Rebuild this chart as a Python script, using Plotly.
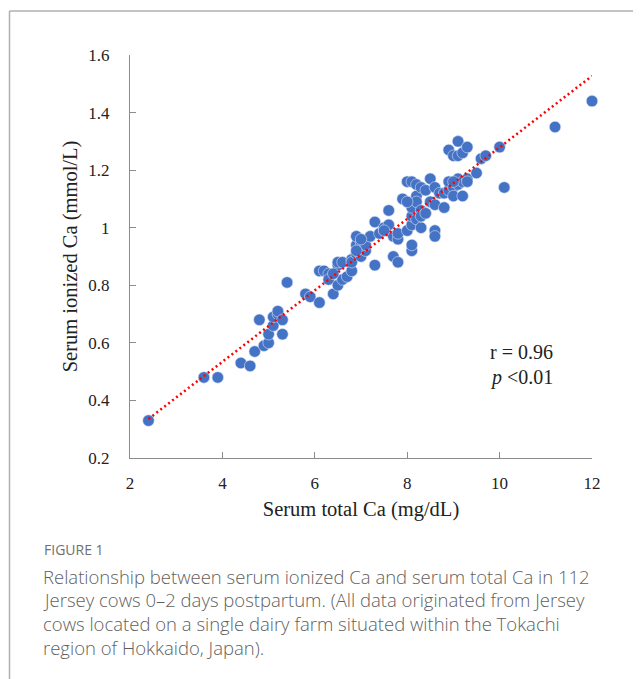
import numpy as np
import plotly.graph_objects as go

# Serum total Ca (mg/dL)
total_ca = [2.4, 3.6, 3.9, 4.4, 4.6, 4.7, 4.8, 4.9, 5.0, 5.0, 5.1, 5.1, 5.2, 5.2, 5.3, 5.3, 5.4,
            5.8, 5.9, 6.1, 6.1, 6.2, 6.3, 6.3, 6.4, 6.5, 6.5, 6.5, 6.6, 6.6, 6.7, 6.8, 6.8, 6.8,
            6.9, 6.9, 6.9, 7.0, 7.0, 7.0, 7.1, 7.1, 7.2, 7.3, 7.3, 7.4, 7.5, 7.5, 7.6, 7.6, 7.7,
            7.7, 7.8, 7.8, 7.8, 7.9, 8.0, 8.0, 8.1, 8.1, 8.1, 8.1, 8.1, 8.1, 8.2, 8.2, 8.2, 8.2,
            8.3, 8.3, 8.3, 8.3, 8.4, 8.5, 8.5, 8.6, 8.6, 8.6, 8.6, 8.7, 8.8, 8.8, 8.9, 8.9, 8.9,
            9.0, 9.0, 9.0, 9.1, 9.1, 9.1, 9.1, 9.2, 9.2, 9.2, 9.3, 9.3, 9.3, 9.5, 9.6, 9.7, 10.0,
            10.1, 11.2, 12.0, 6.4, 7.0, 7.5, 8.0, 8.4, 9.0, 6.9]
# Serum ionized Ca (mmol/L)
ionized_ca = [0.33, 0.48, 0.48, 0.53, 0.52, 0.57, 0.68, 0.59, 0.60, 0.63, 0.66, 0.69, 0.70, 0.71, 0.63, 0.68, 0.81,
              0.77, 0.76, 0.74, 0.85, 0.85, 0.84, 0.82, 0.77, 0.80, 0.87, 0.88, 0.82, 0.88, 0.83, 0.89, 0.85, 0.88,
              0.91, 0.94, 0.97, 0.93, 0.95, 0.90, 0.92, 0.94, 0.97, 0.87, 1.02, 0.98, 0.99, 1.00, 1.01, 1.06, 0.97,
              0.90, 0.88, 0.96, 0.98, 1.10, 1.16, 0.99, 0.92, 0.94, 1.01, 1.04, 1.07, 1.16, 1.11, 1.15, 1.03, 1.09,
              1.14, 1.06, 1.00, 1.04, 1.13, 1.17, 1.09, 1.08, 0.99, 0.97, 1.14, 1.12, 1.07, 1.12, 1.13, 1.16, 1.27,
              1.25, 1.14, 1.11, 1.30, 1.25, 1.17, 1.15, 1.26, 1.11, 1.16, 1.28, 1.17, 1.16, 1.19, 1.24, 1.25, 1.28,
              1.14, 1.35, 1.44, 0.84, 0.96, 0.99, 1.09, 1.05, 1.16, 0.92]

x_ticks = [2, 4, 6, 8, 10, 12]
y_ticks = [0.2, 0.4, 0.6, 0.8, 1.0, 1.2, 1.4, 1.6]
y_ticktext = ["0.2", "0.4", "0.6", "0.8", "1", "1.2", "1.4", "1.6"]

caption_label = "FIGURE 1"
caption_lines = [
    "Relationship between serum ionized Ca and serum total Ca in 112",
    "Jersey cows 0\u20132 days postpartum. (All data originated from Jersey",
    "cows located on a single dairy farm situated within the Tokachi",
    "region of Hokkaido, Japan).",
]

slope, intercept = np.polyfit(total_ca, ionized_ca, 1)
fit_x = np.array([min(total_ca), max(total_ca)])
fit_y = slope * fit_x + intercept

# page has an 8px body margin; screen coordinates are converted accordingly
OFF = 8
W, H = 641 - OFF, 679 - OFF
L, T = 130 - OFF, 55 - OFF
pw, ph = 462, 403
R, B = W - L - pw, H - T - ph

def px(x):
    return (x - OFF - L) / pw

def py(y):
    return (T + ph - (y - OFF)) / ph

fig = go.Figure()
fig.add_trace(go.Scatter(
    x=total_ca, y=ionized_ca, mode="markers",
    marker=dict(size=11.5, color="#4472C4", line=dict(width=0.6, color="#D6E0F5")),
    cliponaxis=False, showlegend=False, hoverinfo="x+y"))
fig.add_trace(go.Scatter(
    x=fit_x, y=fit_y, mode="lines",
    line=dict(color="#FF0000", width=2.5, dash="2px,3px"),
    cliponaxis=False, showlegend=False, hoverinfo="skip"))

serif = "Liberation Serif, Times New Roman, serif"
axis_common = dict(
    showgrid=False, zeroline=False, showline=True, linecolor="#8c8c8c", linewidth=1,
    ticks="inside", ticklen=6, tickcolor="#8c8c8c",
    tickfont=dict(family=serif, size=17, color="#222"),
)

fig.update_xaxes(range=[2, 12], tickvals=x_ticks, ticktext=[str(v) for v in x_ticks],
                 title=dict(text="Serum total Ca (mg/dL)", font=dict(family=serif, size=20.5, color="#222"), standoff=9),
                 ticklabelstandoff=10, **axis_common)
fig.update_yaxes(range=[0.2, 1.6], tickvals=y_ticks, ticktext=y_ticktext,
                 title=dict(text="Serum ionized Ca (mmol/L)", font=dict(family=serif, size=20.5, color="#222"), standoff=5),
                 ticklabelstandoff=16, **axis_common)

annotations = [
    dict(x=9.75, y=0.568, xref="x", yref="y", text="r = 0.96", showarrow=False, xanchor="left",
         font=dict(family=serif, size=20, color="#222")),
    dict(x=9.75, y=0.478, xref="x", yref="y", text="<i>p</i> <0.01", showarrow=False, xanchor="left",
         font=dict(family=serif, size=20, color="#222")),
    dict(x=px(42), y=py(549), xref="paper", yref="paper", text=caption_label, showarrow=False,
         xanchor="left", yanchor="middle", font=dict(family="Open Sans, sans-serif", size=14, color="#707070")),
]
for i, line in enumerate(caption_lines):
    annotations.append(dict(x=px(41), y=py(576 + i * 23.7), xref="paper", yref="paper", text=line,
                            showarrow=False, xanchor="left", yanchor="middle",
                            font=dict(family="Open Sans, sans-serif", size=18.5, color="#5f5f5f", weight=300)))

shapes = [
    dict(type="line", xref="paper", yref="paper", x0=px(9.5), x1=px(9.5), y0=py(11), y1=py(679 + 10),
         line=dict(color="#b0b0b0", width=1.5)),
    dict(type="line", xref="paper", yref="paper", x0=px(9.5), x1=px(641 + 10), y0=py(11), y1=py(11),
         line=dict(color="#b0b0b0", width=1.5)),
]

fig.update_layout(
    width=W, height=H, margin=dict(l=L, r=R, t=T, b=B),
    plot_bgcolor="white", paper_bgcolor="white",
    annotations=annotations, shapes=shapes,
)

fig.write_html("out.html")
